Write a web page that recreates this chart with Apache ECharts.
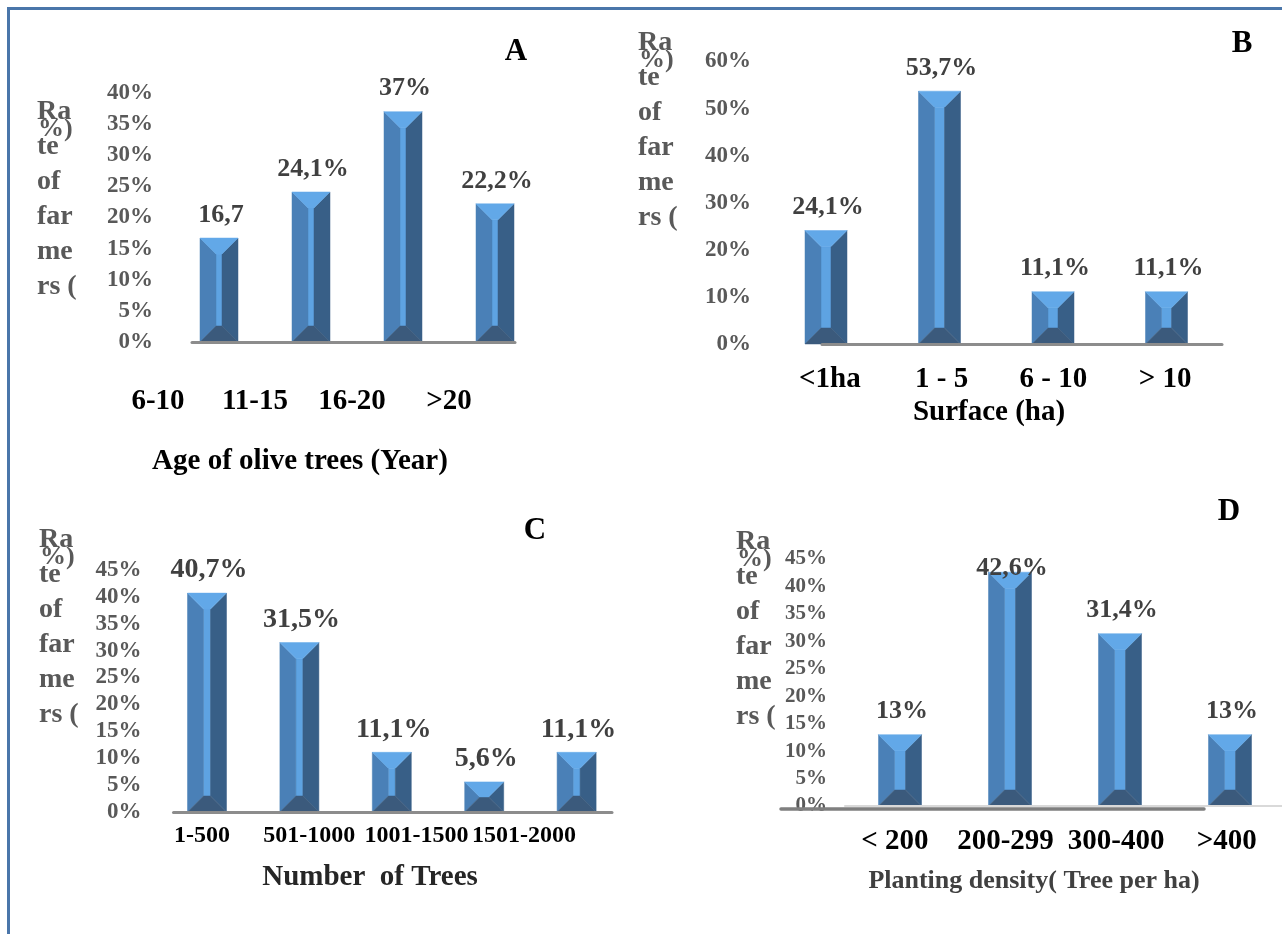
<!DOCTYPE html>
<html><head><meta charset="utf-8">
<script src="https://cdn.jsdelivr.net/npm/echarts@6/dist/echarts.min.js"></script>
<style>html,body{margin:0;padding:0;background:#fff}#c{width:1282px;height:934px}</style>
</head><body><div id="c"></div>
<script>
// ---------- DATA ----------
const ageCategories = ['6-10', '11-15', '16-20', '>20'];
const ageValues = [16.7, 24.1, 37, 22.2];
const ageLabels = ['16,7', '24,1%', '37%', '22,2%'];

const surfaceCategories = ['<1ha', '1 - 5', '6 - 10', '> 10'];
const surfaceValues = [24.1, 53.7, 11.1, 11.1];
const surfaceLabels = ['24,1%', '53,7%', '11,1%', '11,1%'];

const treeCategories = ['1-500', '501-1000', '1001-1500', '1501-2000'];
const treeValues = [40.7, 31.5, 11.1, 5.6, 11.1];
const treeLabels = ['40,7%', '31,5%', '11,1%', '5,6%', '11,1%'];

const densityCategories = ['< 200', '200-299', '300-400', '>400'];
const densityValues = [13, 42.6, 31.4, 13];
const densityLabels = ['13%', '42,6%', '31,4%', '13%'];

const yTitleLines = ['Ra', 'te', 'of', 'far', 'me', 'rs ('];
const yTitleExtra = '%)';

const ageAxisMax = 40, ageAxisStep = 5;
const surfaceAxisMax = 60, surfaceAxisStep = 10;
const treeAxisMax = 45, treeAxisStep = 5;
const densityAxisMax = 45, densityAxisStep = 5;

// ---------- LAYOUT ----------
const FONT = '"Liberation Serif", "Times New Roman", serif';
const panels = [
  { letter: 'A', letterPos: [516, 52], title: 'Age of olive trees (Year)', titlePos: [300, 462], titleSize: 29, titleColor: '#000',
    cats: ageCategories, vals: ageValues, labels: ageLabels, max: ageAxisMax, step: ageAxisStep,
    left: 192, right: 515, zeroY: 342, topY: 93, first: 219, spacing: 92, barW: 38, tickMargin: 39, tickSize: 23,
    lineColor: '#8c8c8c', lineWidth: 3, valueSize: 26, clamp: false,
    labFirst: 158, labSpacing: 97, labY: 402, labSize: 29, labColor: '#000',
    ytX: 37, ytY: 112 },
  { letter: 'B', letterPos: [1242, 44], title: 'Surface (ha)', titlePos: [989, 413], titleSize: 29, titleColor: '#000',
    cats: surfaceCategories, vals: surfaceValues, labels: surfaceLabels, max: surfaceAxisMax, step: surfaceAxisStep,
    left: 822, right: 1222, zeroY: 344, topY: 61.5, first: 826, spacing: 113.5, barW: 42, tickMargin: 71, tickSize: 23,
    lineColor: '#8c8c8c', lineWidth: 3, valueSize: 26, clamp: false,
    labFirst: 829.8, labSpacing: 111.8, labY: 380, labSize: 29, labColor: '#000',
    ytX: 638, ytY: 43 },
  { letter: 'C', letterPos: [535, 531], title: 'Number  of Trees', titlePos: [370, 878], titleSize: 29, titleColor: '#262626',
    cats: treeCategories, vals: treeValues, labels: treeLabels, max: treeAxisMax, step: treeAxisStep,
    left: 173.5, right: 612, zeroY: 812, topY: 570, first: 207, spacing: 92.4, barW: 39, tickMargin: 32, tickSize: 23,
    lineColor: '#8c8c8c', lineWidth: 3, valueSize: 28, clamp: false,
    labFirst: 202, labSpacing: 107.3, labY: 836, labSize: 24, labColor: '#000',
    ytX: 39, ytY: 540 },
  { letter: 'D', letterPos: [1229, 512], title: 'Planting density( Tree per ha)', titlePos: [1034, 881], titleSize: 26, titleColor: '#404040',
    cats: densityCategories, vals: densityValues, labels: densityLabels, max: densityAxisMax, step: densityAxisStep,
    left: 845, right: 1282, zeroY: 806, topY: 559, first: 900, spacing: 110, barW: 43, tickMargin: 18, tickSize: 21,
    lineColor: '#d9d9d9', lineWidth: 2, valueSize: 26, clamp: true,
    labFirst: 896, labSpacing: 112.7, labY: 842, labSize: 29, labColor: '#000',
    ytX: 736, ytY: 542,
    extraLine: { left: 781, right: 1204, y: 809, color: '#7f7f7f', width: 3.5 } }
];

const COLORS = { top: '#62a8e8', left: '#4a80b7', right: '#385f87', bottom: '#3b5a7c', center: '#5ea3e2' };

const grid = [], xAxis = [], yAxis = [], series = [], graphic = [];

function makeRender(p) {
  return function (params, api) {
    const i = api.value(0), v = api.value(1);
    const t = api.coord([i, v]);
    const bpt = api.coord([i, 0]);
    const hw = p.barW / 2;
    const x0 = t[0] - hw, x1 = t[0] + hw, yt = t[1], yb = bpt[1];
    const b = Math.min(16, (yb - yt) / 2, hw - 2);
    const poly = (pts, fill) => ({ type: 'polygon', shape: { points: pts }, style: { fill: fill, stroke: fill, lineWidth: 0.5 } });
    let ly = yt - 23;
    if (p.clamp) {
      const lim = api.coord([i, p.max])[1] + 9;
      if (ly < lim) ly = lim;
    }
    return {
      type: 'group',
      children: [
        poly([[x0 + b, yt + b], [x1 - b, yt + b], [x1 - b, yb - b], [x0 + b, yb - b]], COLORS.center),
        poly([[x0, yt], [x0 + b, yt + b], [x0 + b, yb - b], [x0, yb]], COLORS.left),
        poly([[x1, yt], [x1 - b, yt + b], [x1 - b, yb - b], [x1, yb]], COLORS.right),
        poly([[x0, yb], [x1, yb], [x1 - b, yb - b], [x0 + b, yb - b]], COLORS.bottom),
        poly([[x0, yt], [x1, yt], [x1 - b, yt + b], [x0 + b, yt + b]], COLORS.top),
        { type: 'text', z2: 10, style: { text: p.labels[i], x: t[0] + 2, y: ly,
          textAlign: 'center', textVerticalAlign: 'middle', align: 'center', verticalAlign: 'middle',
          font: 'bold ' + p.valueSize + 'px ' + FONT, fill: '#404040' } }
      ]
    };
  };
}

panels.forEach((p) => {
  // bar grid
  const gi = grid.length;
  grid.push({ left: p.left, top: p.topY, width: p.right - p.left, height: p.zeroY - p.topY, containLabel: false });
  xAxis.push({ type: 'value', gridIndex: gi, min: (p.left - p.first) / p.spacing, max: (p.right - p.first) / p.spacing, z: 3,
    axisLine: { show: true, onZero: false, lineStyle: { color: p.lineColor, width: p.lineWidth } },
    axisTick: { show: false }, axisLabel: { show: false }, splitLine: { show: false } });
  yAxis.push({ type: 'value', gridIndex: gi, min: 0, max: p.max, interval: p.step,
    axisLine: { show: false }, axisTick: { show: false }, splitLine: { show: false },
    axisLabel: { margin: p.tickMargin, formatter: (v) => v + '%', color: '#595959', fontFamily: FONT, fontWeight: 'bold', fontSize: p.tickSize } });
  series.push({ type: 'custom', xAxisIndex: gi, yAxisIndex: gi, clip: false, z: 2,
    data: p.vals.map((v, i) => [i, v]), encode: { x: 0, y: 1 }, renderItem: makeRender(p) });

  // category label grid
  const li = grid.length;
  const lLeft = p.labFirst - p.labSpacing / 2;
  grid.push({ left: lLeft, top: p.labY - 21, width: p.labSpacing * p.cats.length, height: 1 });
  xAxis.push({ type: 'category', gridIndex: li, data: p.cats, boundaryGap: true,
    axisLine: { show: false }, axisTick: { show: false }, splitLine: { show: false },
    axisLabel: { interval: 0, hideOverlap: false, margin: 20, verticalAlign: 'middle', color: p.labColor,
      fontFamily: FONT, fontWeight: 'bold', fontSize: p.labSize } });
  yAxis.push({ type: 'value', gridIndex: li, show: false });

  if (p.extraLine) {
    const ei = grid.length;
    const e = p.extraLine;
    grid.push({ left: e.left, top: e.y - 1, width: e.right - e.left, height: 1 });
    xAxis.push({ type: 'value', gridIndex: ei, min: 0, max: 1, z: 6,
      axisLine: { show: true, onZero: false, lineStyle: { color: e.color, width: e.width } },
      axisTick: { show: false }, axisLabel: { show: false }, splitLine: { show: false } });
    yAxis.push({ type: 'value', gridIndex: ei, show: false });
  }

  // y-axis title pieces
  yTitleLines.forEach((s, k) => {
    graphic.push({ type: 'text', x: p.ytX, y: p.ytY + k * 35, z: 5,
      style: { text: s, font: 'bold 28px ' + FONT, fill: '#595959', textVerticalAlign: 'middle', verticalAlign: 'middle', textAlign: 'left', align: 'left' } });
  });
  graphic.push({ type: 'text', x: p.ytX + 1, y: p.ytY + 17, z: 5,
    style: { text: yTitleExtra, font: 'bold 26px ' + FONT, fill: '#595959', textVerticalAlign: 'middle', verticalAlign: 'middle', textAlign: 'left', align: 'left' } });

  // panel letter
  graphic.push({ type: 'text', x: p.letterPos[0], y: p.letterPos[1], z: 5,
    style: { text: p.letter, font: 'bold 31px ' + FONT, fill: '#000', textVerticalAlign: 'middle', verticalAlign: 'middle', textAlign: 'center', align: 'center' } });
  // axis title
  graphic.push({ type: 'text', x: p.titlePos[0], y: p.titlePos[1], z: 5,
    style: { text: p.title, font: 'bold ' + p.titleSize + 'px ' + FONT, fill: p.titleColor, textVerticalAlign: 'middle', verticalAlign: 'middle', textAlign: 'center', align: 'center' } });
});

// outer frame
graphic.push({ type: 'line', z: 1, shape: { x1: 8.5, y1: 7, x2: 8.5, y2: 934 }, style: { stroke: '#4a76aa', lineWidth: 3 } });
graphic.push({ type: 'line', z: 1, shape: { x1: 7, y1: 8.5, x2: 1282, y2: 8.5 }, style: { stroke: '#4a76aa', lineWidth: 3 } });

const chart = echarts.init(document.getElementById('c'), null, { renderer: 'canvas' });
chart.setOption({ animation: false, backgroundColor: '#fff', grid, xAxis, yAxis, series, graphic });
</script></body></html>
